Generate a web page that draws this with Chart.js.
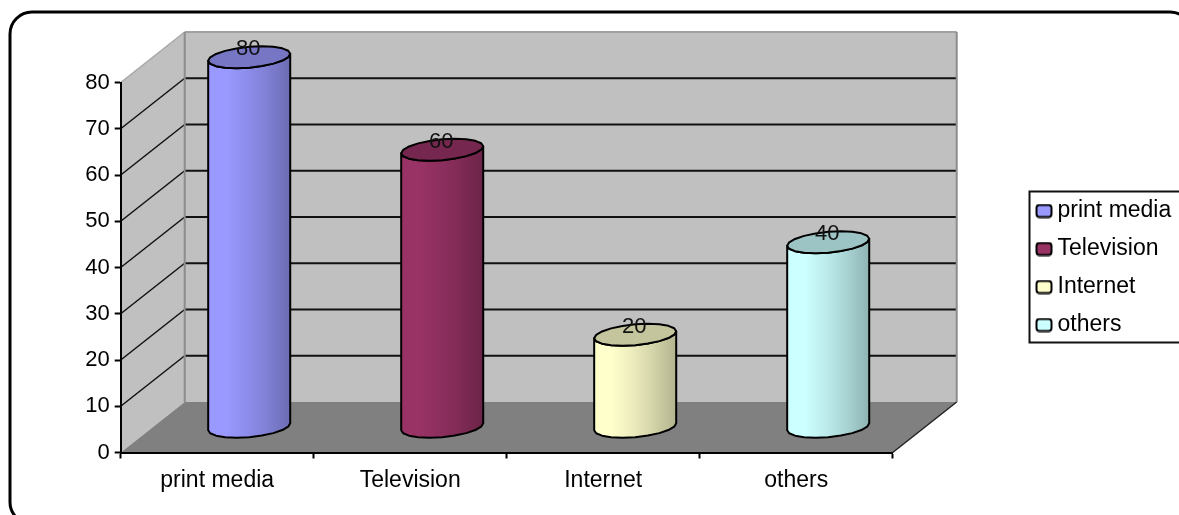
<!DOCTYPE html>
<html>
<head>
<meta charset="utf-8">
<title>Media chart</title>
<script src="https://cdn.jsdelivr.net/npm/chart.js@4"></script>
<style>
  html, body { margin: 0; padding: 0; background: #fff; overflow: hidden; }
  canvas { display: block; filter: blur(0.4px); }
</style>
</head>
<body>
<canvas id="myChart" width="1179" height="515"></canvas>
<script>
const categories = ['print media', 'Television', 'Internet', 'others'];
const values = [80, 60, 20, 40];
const colors = ['#9999ff', '#993366', '#ffffcc', '#ccffff'];
const yTicks = [0, 10, 20, 30, 40, 50, 60, 70, 80];

// depth of the fake 3D box, cylinders stand half way in
const depthX = 64;
const depthY = -50.5;

function shade(hex, f) {
    const n = parseInt(hex.slice(1), 16);
    const r = Math.round((n >> 16) * f);
    const g = Math.round(((n >> 8) & 255) * f);
    const b = Math.round((n & 255) * f);
    return `rgb(${r},${g},${b})`;
}

function polygon(ctx, pts, fill, stroke, lineWidth) {
    ctx.beginPath();
    pts.forEach((p, i) => i ? ctx.lineTo(p[0], p[1]) : ctx.moveTo(p[0], p[1]));
    ctx.closePath();
    ctx.fillStyle = fill;
    ctx.fill();
    if (stroke) {
        ctx.strokeStyle = stroke;
        ctx.lineWidth = lineWidth || 1;
        ctx.lineJoin = 'round';
        ctx.stroke();
    }
}

function line(ctx, x1, y1, x2, y2, color, width) {
    ctx.beginPath();
    ctx.moveTo(x1, y1);
    ctx.lineTo(x2, y2);
    ctx.strokeStyle = color;
    ctx.lineWidth = width;
    ctx.stroke();
}

// point on the tilted ellipse of a cylinder end
function ellipsePoint(cx, cy, a, t) {
    return [cx + a * Math.cos(t), cy + 10.4 * Math.sin(t) - 3.5 * Math.cos(t)];
}

function drawCylinder(ctx, cx, top, bottom, halfWidth, color) {
    const steps = 10;
    const body = [];
    for (let i = 0; i <= steps; i++) {
        body.push(ellipsePoint(cx, top, halfWidth, Math.PI - Math.PI * i / steps));
    }
    for (let i = 0; i <= steps; i++) {
        body.push(ellipsePoint(cx, bottom, halfWidth, Math.PI * i / steps));
    }
    const grad = ctx.createLinearGradient(cx - halfWidth, 0, cx + halfWidth, 0);
    grad.addColorStop(0, color);
    grad.addColorStop(0.22, color);
    grad.addColorStop(0.45, shade(color, 0.93));
    grad.addColorStop(0.7, shade(color, 0.84));
    grad.addColorStop(1, shade(color, 0.7));
    polygon(ctx, body, grad, '#000', 2);

    const cap = [];
    for (let i = 0; i < steps * 2; i++) {
        cap.push(ellipsePoint(cx, top, halfWidth, Math.PI * i / steps));
    }
    polygon(ctx, cap, shade(color, 0.77), '#000', 2);
}

function makeSwatch(color) {
    const c = document.createElement('canvas');
    c.width = 18;
    c.height = 15;
    const g = c.getContext('2d');
    g.beginPath();
    g.roundRect(1.5, 1.5, 15, 12, 3);
    g.fillStyle = color;
    g.fill();
    g.strokeStyle = '#000';
    g.lineWidth = 2;
    g.stroke();
    return c;
}

const box3d = {
    id: 'box3d',
    // outer frame, walls and floor go under the axes
    beforeDraw(chart) {
        const ctx = chart.ctx;
        const a = chart.chartArea;
        const y = chart.scales.y;
        ctx.save();

        ctx.beginPath();
        ctx.roundRect(10, 12, 1182, 512, 22);
        ctx.strokeStyle = '#000';
        ctx.lineWidth = 3;
        ctx.stroke();

        const bx0 = a.left + depthX, bx1 = a.right + depthX;
        const by0 = a.top + depthY, by1 = a.bottom + depthY;
        polygon(ctx, [[bx0, by0], [bx1, by0], [bx1, by1], [bx0, by1]], '#c0c0c0');
        polygon(ctx, [[a.left, a.top], [bx0, by0], [bx0, by1], [a.left, a.bottom]], '#c0c0c0');
        polygon(ctx, [[a.left, a.bottom], [a.right, a.bottom], [bx1, by1], [bx0, by1]], '#808080');

        yTicks.forEach(v => {
            if (v === 0 || v === 80) return;
            const py = y.getPixelForValue(v);
            line(ctx, a.left, py, bx0, py + depthY, '#111', 1.5);
            line(ctx, bx0, py + depthY, bx1, py + depthY, '#111', 2);
        });

        line(ctx, a.left, a.top, bx0, by0, '#a8a8a8', 1.5);
        line(ctx, bx0, by0, bx1, by0, '#a0a0a0', 2);
        line(ctx, bx0, by0, bx0, by1, '#8c8c8c', 2);
        line(ctx, bx1, by0, bx1, by1, '#8c8c8c', 2);
        line(ctx, a.right, a.bottom, bx1, by1, '#222', 1.5);
        ctx.restore();
    },
    // the legend lives beside the plot, its border goes round it
    afterLayout(chart) {
        const legend = chart.legend;
        legend.left = 1027;
        legend.right = 1179;
        legend.top = 184.5;
        legend.bottom = 515;
    },
    beforeDatasetDraw(chart, args) {
        const ctx = chart.ctx;
        ctx.save();
        args.meta.data.forEach((bar, i) => {
            const p = bar.getProps(['x', 'y', 'base', 'width'], true);
            const color = chart.data.datasets[args.index].backgroundColor[i];
            drawCylinder(ctx, p.x + depthX / 2, p.y + depthY / 2, p.base + depthY / 2, p.width / 2, color);
        });
        ctx.restore();
        return false;
    },
    afterDatasetsDraw(chart) {
        const ctx = chart.ctx;
        const meta = chart.getDatasetMeta(0);
        ctx.save();
        ctx.font = '22px "Liberation Sans"';
        ctx.fillStyle = '#111';
        ctx.textAlign = 'center';
        ctx.textBaseline = 'middle';
        meta.data.forEach((bar, i) => {
            const p = bar.getProps(['x', 'y'], true);
            ctx.fillText(String(values[i]), p.x + depthX / 2 - 1, p.y + depthY / 2 - 8);
        });
        ctx.restore();
    },
    afterDraw(chart) {
        const ctx = chart.ctx;
        ctx.save();
        ctx.strokeStyle = '#111';
        ctx.lineWidth = 2;
        ctx.strokeRect(1029.5, 191.5, 151, 151);
        ctx.restore();
    }
};

Chart.defaults.font.family = '"Liberation Sans", Arial, sans-serif';
Chart.defaults.font.size = 22;
Chart.defaults.color = '#000';

const chrt = document.getElementById('myChart');

new Chart(chrt, {
    type: 'bar',
    data: {
        labels: categories,
        datasets: [{
            label: 'Media',
            data: values,
            backgroundColor: colors,
            barPercentage: 0.425,
            categoryPercentage: 1
        }]
    },
    plugins: [box3d],
    options: {
        responsive: false,
        animation: false,
        layout: {
            padding: { left: 0, top: 82.5, right: 286.3, bottom: 0 }
        },
        plugins: {
            title: { display: false },
            tooltip: { enabled: false },
            legend: {
                position: 'chartArea',
                align: 'start',
                labels: {
                    padding: 15,
                    usePointStyle: true,
                    pointStyleWidth: 4,
                    boxHeight: 13,
                    font: { size: 23 },
                    generateLabels: () => categories.map((name, i) => ({
                        text: name,
                        fillStyle: colors[i],
                        pointStyle: makeSwatch(colors[i]),
                        index: i
                    }))
                }
            }
        },
        scales: {
            x: {
                afterFit: s => { s.height = 62.5; },
                border: { color: '#000', width: 2 },
                grid: { drawOnChartArea: false, tickColor: '#000', tickLength: 6, tickWidth: 2 },
                ticks: { padding: 8, maxRotation: 0, font: { size: 23 } }
            },
            y: {
                min: 0,
                max: 80,
                afterFit: s => { s.width = 120.7; },
                afterBuildTicks: s => { s.ticks = yTicks.map(v => ({ value: v })); },
                border: { color: '#000', width: 2 },
                grid: { drawOnChartArea: false, tickColor: '#000', tickLength: 6, tickWidth: 2 },
                ticks: { padding: 5 }
            }
        }
    }
});
</script>
</body>
</html>
